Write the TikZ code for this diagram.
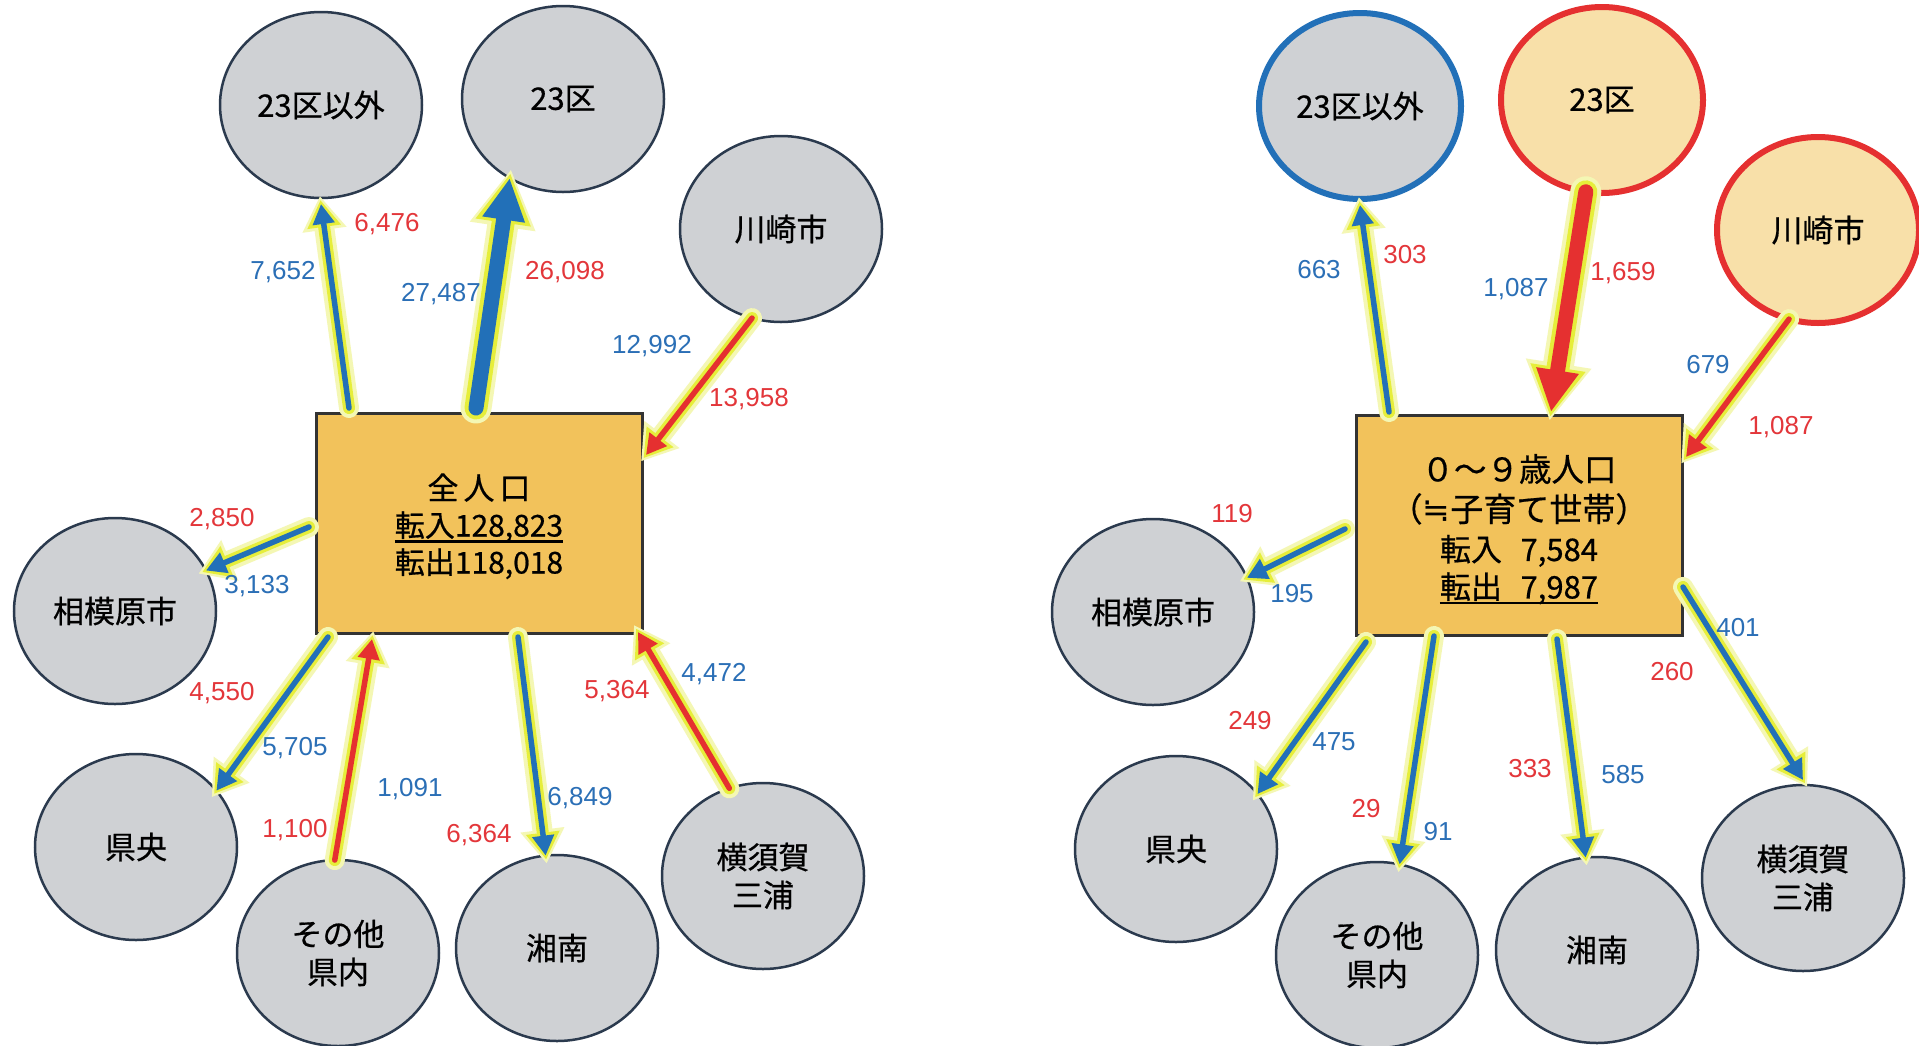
\documentclass[tikz,border=0pt]{standalone}
\usepackage{fontspec}
\setmainfont{Noto Sans CJK JP}
\newfontfamily\jpb{Noto Sans CJK JP}[FakeBold=0.6]
\newfontfamily\labfont{Liberation Sans}
\newfontfamily\symfont{DejaVu Sans}
\usetikzlibrary{arrows.meta,shapes.geometric}
\definecolor{blueC}{HTML}{2270B8}
\definecolor{redC}{HTML}{E53030}
\definecolor{glowC}{HTML}{E6EE3A}
\definecolor{glowS}{HTML}{F4F7B4}
\definecolor{ellC}{HTML}{CFD1D4}
\definecolor{edgeC}{HTML}{2B3A4E}
\definecolor{boxC}{HTML}{F2C25B}
\definecolor{boxE}{HTML}{333333}
\definecolor{peachC}{HTML}{F8E0A9}
\definecolor{labR}{HTML}{E3363A}
\definecolor{labB}{HTML}{2B6FB6}
\newcommand\myul[1]{\setbox0\hbox{#1}\rlap{\rule[-6pt]{\wd0}{2.5pt}}\box0}
\newcommand\lowered[2]{\raisebox{-#1}[\height][\depth]{#2}}
\tikzset{
  place/.style={ellipse, draw=edgeC, line width=2.5pt, fill=ellC, minimum width=202pt, minimum height=186pt, inner sep=0pt, outer sep=0pt, align=center, font=\jpb\fontsize{31}{38}\selectfont},
  hiblue/.style={place, draw=blueC, line width=6pt},
  hired/.style={place, draw=redC, line width=6pt, fill=peachC},
  centerbox/.style={rectangle, draw=boxE, line width=3pt, fill=boxC, minimum width=326pt, minimum height=220pt, inner sep=0pt, outer sep=0pt, align=center},
  num/.style={font=\labfont\fontsize{26}{30}\selectfont, inner sep=0pt},
  nred/.style={num, text=labR},
  nblue/.style={num, text=labB},
  flowthin/.style={draw=#1, line width=5.5pt, line cap=round, -{Triangle[length=20pt,width=21pt]},
    preaction={draw=glowS, line width=20pt, line cap=round, -{Triangle[length=34pt,width=42pt]}, shorten >=-8pt},
    preaction={draw=glowC, line width=12pt, line cap=round, -{Triangle[length=27pt,width=32pt]}, shorten >=-4pt}},
  flowthick/.style={draw=#1, line width=15pt, line cap=round, -{Triangle[length=42pt,width=40pt]},
    preaction={draw=glowS, line width=31pt, line cap=round, -{Triangle[length=58pt,width=62pt]}, shorten >=-9pt},
    preaction={draw=glowC, line width=23pt, line cap=round, -{Triangle[length=50pt,width=52pt]}, shorten >=-5pt}},
}
\begin{document}
\begin{tikzpicture}[x=1pt,y=-1pt]
\fill[white] (0,0) rectangle (1919,1045);
\useasboundingbox (0,0) rectangle (1919,1045);

% ---------- left panel ----------
\node[place] (L23o) at (321,105) {23区以外};
\node[place] (L23) at (563,99) {23区};
\node[place] (Lkw) at (781,229) {川崎市};
\node[place] (Lsg) at (115,611) {相模原市};
\node[place] (Lko) at (136,847) {県央};
\node[place] (Lot) at (338,953) {その他\\県内};
\node[place] (Lsn) at (557,948) {湘南};
\node[place] (Lyk) at (763,876) {横須賀\\三浦};
\node[centerbox, font=\jpb\fontsize{30}{37}\selectfont] (Lbox) at (479,523)
  {\lowered{6pt}{\begin{tabular}{@{}c@{}}{\fontsize{31}{37}\selectfont 全\hspace{5pt}人\hspace{5pt}口}\\\myul{転入128,823}\\転出118,018\end{tabular}}};

\draw[flowthin=blueC] ([xshift=33pt,yshift=5pt]Lbox.north west) -- ([yshift=-6pt]L23o.south);
\draw[flowthick=blueC] ([xshift=160pt,yshift=5pt]Lbox.north west) -- (L23.-124);
\draw[flowthin=redC] (Lkw.-108) -- ([xshift=4pt,yshift=-42pt]Lbox.north east);
\draw[flowthin=blueC] ([xshift=-7pt,yshift=-114pt]Lbox.north west) -- (Lsg.24);
\draw[flowthin=blueC] ([xshift=12pt,yshift=-4pt]Lbox.south west) -- (Lko.35);
\draw[flowthin=redC] (Lot.92) -- ([xshift=56pt,yshift=-6pt]Lbox.south west);
\draw[flowthin=blueC] ([xshift=202pt,yshift=-4pt]Lbox.south west) -- (Lsn.97);
\draw[flowthin=redC] (Lyk.111) -- ([xshift=-4pt,yshift=1pt]Lbox.south east);

\node[nred] (lA1) at (387,224) {6,476};
\node[nblue] (lA2) at (283,272) {7,652};
\node[nblue] (lA3) at (441,294) {27,487};
\node[nred] (lA4) at (565,272) {26,098};
\node[nblue] (lA5) at (652,346) {12,992};
\node[nred] (lA6) at (749,399) {13,958};
\node[nred] (lA7) at (222,519) {2,850};
\node[nblue] (lA8) at (257,586) {3,133};
\node[nred] (lA9) at (222,693) {4,550};
\node[nblue] (lA10) at (295,748) {5,705};
\node[nblue] (lA11) at (410,789) {1,091};
\node[nred] (lA12) at (295,830) {1,100};
\node[nblue] (lA13) at (580,798) {6,849};
\node[nred] (lA14) at (479,835) {6,364};
\node[nred] (lA15) at (617,691) {5,364};
\node[nblue] (lA16) at (714,674) {4,472};

% ---------- right panel ----------
\node[hiblue] (R23o) at (1360,106) {23区以外};
\node[hired] (R23) at (1602,100) {23区};
\node[hired] (Rkw) at (1818,230) {川崎市};
\node[place] (Rsg) at (1153,612) {相模原市};
\node[place] (Rko) at (1176,849) {県央};
\node[place] (Rot) at (1377,955) {その他\\県内};
\node[place] (Rsn) at (1597,950) {湘南};
\node[place] (Ryk) at (1803,878) {横須賀\\三浦};
\node[centerbox, font=\jpb\fontsize{31}{39.5}\selectfont] (Rbox) at (1519,525)
  {\lowered{7pt}{\begin{tabular}{@{}c@{}}{\fontsize{32.5}{39.5}\selectfont ０～９歳人口}\\{\fontsize{33}{39.5}\selectfont （{\symfont ≒}子育て世帯）}\\転入\hspace{0.6em}7,584\\[-2pt]\myul{転出\hspace{0.6em}7,987}\end{tabular}}};

\draw[flowthin=blueC] ([xshift=33pt,yshift=3pt]Rbox.north west) -- ([yshift=-6pt]R23o.south);
\draw[flowthick=redC] (R23.-100) -- ([xshift=195pt,yshift=3pt]Rbox.north west);
\draw[flowthin=redC] (Rkw.-108) -- ([xshift=4pt,yshift=-42pt]Rbox.north east);
\draw[flowthin=blueC] ([xshift=-11pt,yshift=-114pt]Rbox.north west) -- (Rsg.20);
\draw[flowthin=blueC] ([xshift=10pt,yshift=-7pt]Rbox.south west) -- (Rko.34);
\draw[flowthin=blueC] ([xshift=78pt,yshift=-1pt]Rbox.south west) -- (Rot.76);
\draw[flowthin=blueC] ([xshift=201pt,yshift=-4pt]Rbox.south west) -- (Rsn.97);
\draw[flowthin=blueC] ([xshift=1pt,yshift=48pt]Rbox.south east) -- ([yshift=5pt]Ryk.north);

\node[nblue] (rA1) at (1319,270) {663};
\node[nred] (rA2) at (1405,255) {303};
\node[nblue] (rA3) at (1516,289) {1,087};
\node[nred] (rA4) at (1623,273) {1,659};
\node[nblue] (rA5) at (1708,365) {679};
\node[nred] (rA6) at (1781,427) {1,087};
\node[nred] (rA7) at (1232,514) {119};
\node[nblue] (rA8) at (1292,594) {195};
\node[nred] (rA9) at (1250,721) {249};
\node[nblue] (rA10) at (1334,742) {475};
\node[nred] (rA11) at (1366,809) {29};
\node[nblue] (rA12) at (1438,832) {91};
\node[nred] (rA13) at (1530,769) {333};
\node[nblue] (rA14) at (1623,775) {585};
\node[nred] (rA15) at (1672,672) {260};
\node[nblue] (rA16) at (1738,628) {401};
\end{tikzpicture}
\end{document}
